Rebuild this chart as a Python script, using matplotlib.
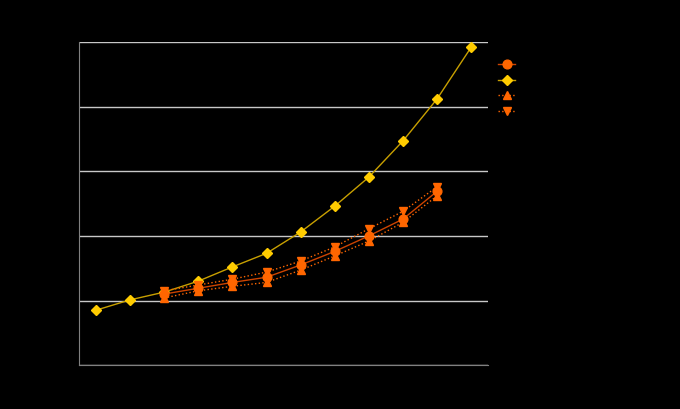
import matplotlib
matplotlib.use("Agg")
import matplotlib.pyplot as plt
import numpy as np

# category positions 1..12
categories = list(range(1, 13))
series2 = [0.85, 1.01, 1.13, 1.30, 1.52, 1.73, 2.06, 2.46, 2.91, 3.47, 4.12, 4.92]

cats_short = list(range(3, 12))
series1 = [1.10, 1.19, 1.28, 1.36, 1.55, 1.76, 2.00, 2.26, 2.69]
series3 = [1.04, 1.15, 1.22, 1.28, 1.47, 1.69, 1.92, 2.21, 2.62]
series4 = [1.15, 1.24, 1.33, 1.44, 1.61, 1.83, 2.11, 2.38, 2.76]

labels = ["Series1", "Series2", "Series3", "Series4"]


def plot():
    fig = plt.figure(figsize=(6.8, 4.1), dpi=100, facecolor="black")
    ax = fig.add_axes([0.116, 0.107, 0.602, 0.788], facecolor="black")

    x_all = np.array(categories)
    x_short = np.array(cats_short)

    ax.plot(x_short, series1, color="#CC4400", lw=1, marker="o", ms=6.3,
            mfc="#FF6600", mec="#FF6600", label=labels[0], zorder=4)
    ax.plot(x_all, series2, color="#C8A000", lw=1, marker="D", ms=5.3,
            mfc="#FFCC00", mec="#FFCC00", label=labels[1], zorder=3)
    ax.plot(x_short, series3, color="#FF6600", lw=1, ls=":", marker="^", ms=6.3,
            mfc="#FF6600", mec="#FF6600", label=labels[2], zorder=4)
    ax.plot(x_short, series4, color="#FF6600", lw=1, ls=":", marker="v", ms=6.3,
            mfc="#FF6600", mec="#FF6600", label=labels[3], zorder=4)

    ax.set_xlim(0.5, 12.5)
    ax.set_ylim(0, 5)
    ax.set_yticks([0, 1, 2, 3, 4, 5])
    ax.set_xticks(categories)
    ax.yaxis.grid(True, color="#C8C8C8", lw=1)
    ax.set_axisbelow(True)
    ax.tick_params(colors="black", labelcolor="black", length=0)

    for s in ["top", "right"]:
        ax.spines[s].set_visible(False)
    for s in ["left", "bottom"]:
        ax.spines[s].set_color("#808080")

    leg = ax.legend(loc="upper left", bbox_to_anchor=(1.0, 0.975), frameon=False,
                    handlelength=1.5, labelspacing=0.5, fontsize=8)
    for t in leg.get_texts():
        t.set_color("black")

    fig.savefig("out.png", facecolor="black")


def main():
    plot()


if __name__ == "__main__":
    main()
